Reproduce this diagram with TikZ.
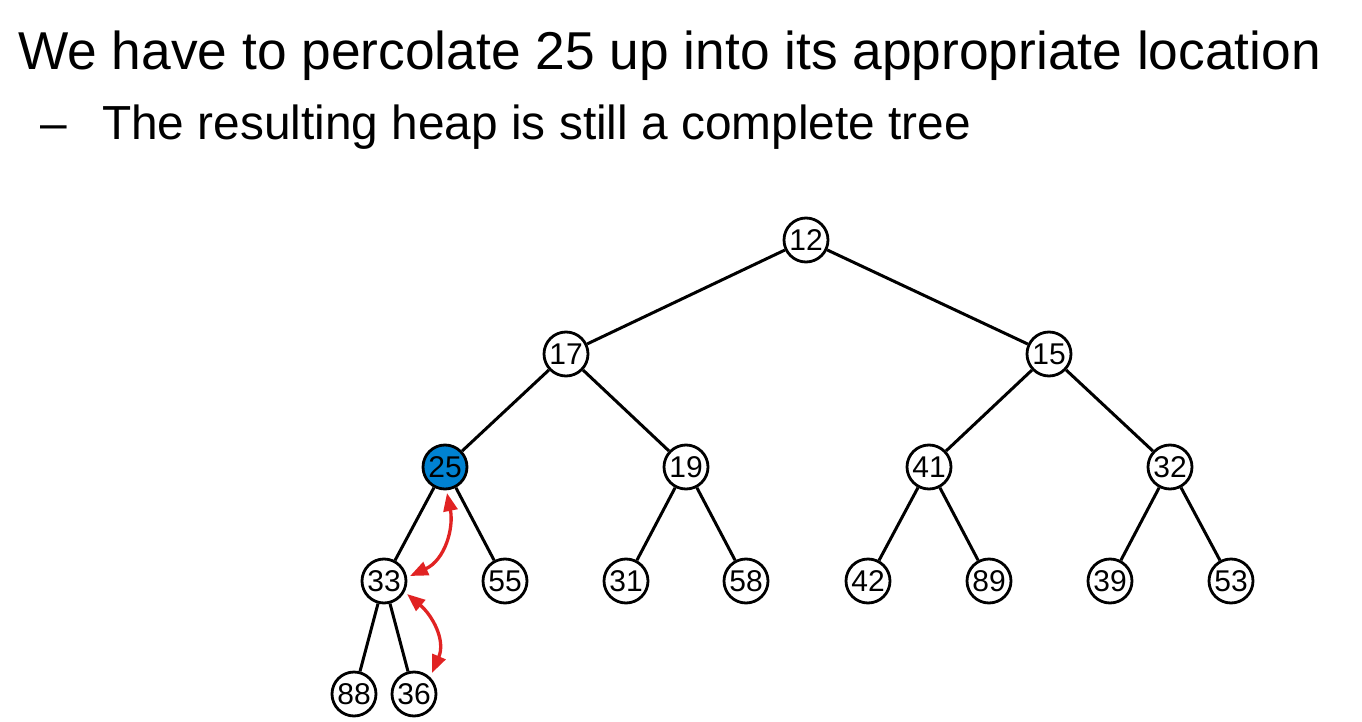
\documentclass[tikz,border=0pt]{standalone}
\usepackage{fontspec}
\setmainfont{Liberation Sans}
\usetikzlibrary{arrows.meta}
\definecolor{heapblue}{RGB}{0,130,210}
\definecolor{swapred}{RGB}{225,35,35}
\begin{document}
\begin{tikzpicture}[x=1pt,y=-1pt,
  hnode/.style={circle,draw=black,line width=2.8pt,fill=white,minimum size=44pt,inner sep=0pt,
    font=\fontsize{30}{30}\selectfont},
  hot/.style={hnode,fill=heapblue},
  edge/.style={line width=3pt,black},
  swap/.style={swapred,line width=3.3pt,{Triangle[length=18pt,width=14pt]}-{Triangle[length=18pt,width=14pt]}}]
\useasboundingbox (0,0) rectangle (1362,722);
\node[anchor=base west,inner sep=0pt,font=\fontsize{53.3}{60}\selectfont] (title) at (18,70) {We have to percolate 25 up into its appropriate location};
\node[anchor=base west,inner sep=0pt,font=\fontsize{47.8}{55}\selectfont] (dash) at (40,140) {–};
\node[anchor=base west,inner sep=0pt,font=\fontsize{47.8}{55}\selectfont] (sub) at (102,140) {The resulting heap is still a complete tree};
% edges first (under nodes)
\coordinate (c12) at (806,240);
% nodes
\node[hnode] (n12) at (806,240) {12};
\node[hnode] (n17) at (566,354) {17};
\node[hnode] (n15) at (1049,354) {15};
\node[hot]   (n25) at (445,467) {25};
\node[hnode] (n19) at (686,467) {19};
\node[hnode] (n41) at (929,467) {41};
\node[hnode] (n32) at (1170,467) {32};
\node[hnode] (n33) at (384,581) {33};
\node[hnode] (n55) at (505,581) {55};
\node[hnode] (n31) at (626,581) {31};
\node[hnode] (n58) at (746,581) {58};
\node[hnode] (n42) at (868,581) {42};
\node[hnode] (n89) at (989,581) {89};
\node[hnode] (n39) at (1110,581) {39};
\node[hnode] (n53) at (1231,581) {53};
\node[hnode] (n88) at (354,694) {88};
\node[hnode] (n36) at (414,694) {36};
% edges
\foreach \a/\b in {n12/n17,n12/n15,n17/n25,n17/n19,n15/n41,n15/n32,n25/n33,n25/n55,n19/n31,n19/n58,n41/n42,n41/n89,n32/n39,n32/n53,n33/n88,n33/n36}
  \draw[edge] (\a) -- (\b);
% swap arrows
\coordinate (s1) at (447,493);
\coordinate (e1) at (410,576);
\coordinate (s2) at (407,594);
\coordinate (e2) at (432,673);
\draw[swap] (s1) .. controls (454,528) and (445,560) .. (e1);
\draw[swap] (s2) .. controls (432,615) and (446,640) .. (e2);
\end{tikzpicture}
\end{document}
